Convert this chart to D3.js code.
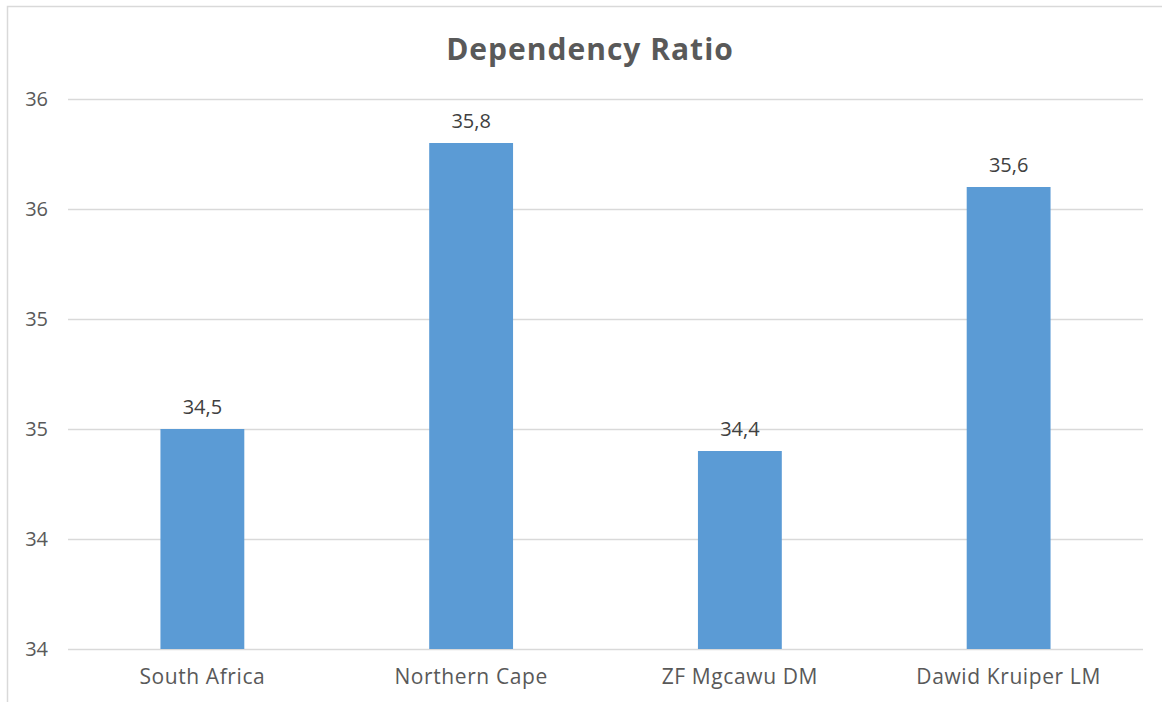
<!DOCTYPE html>
<html><head><meta charset="utf-8">
<script src="https://cdn.jsdelivr.net/npm/d3@7"></script>
<style>body{margin:0;background:#fff}svg{display:block}text{font-family:"Open Sans",sans-serif}</style>
</head><body><svg id="c" width="1162" height="702"></svg>
<script>
const categories = ["South Africa","Northern Cape","ZF Mgcawu DM","Dawid Kruiper LM"];
const values = [34.5, 35.8, 34.4, 35.6];
const valueLabels = ["34,5","35,8","34,4","35,6"];
const tickValues = [33.5, 34, 34.5, 35, 35.5, 36];
const tickLabels = ["34","34","35","35","36","36"];
const title = "Dependency Ratio";

const svg = d3.select("#c");
const W = 1162, H = 702;
const m = {l:68, r:19, t:99, b:53};
svg.append("rect").attr("x",7.5).attr("y",6.5).attr("width",W+10).attr("height",H+10)
  .attr("fill","#fff").attr("stroke","#d9d9d9").attr("stroke-width",1.5);

const x = d3.scaleBand().domain(categories).range([m.l, W-m.r]).paddingInner(0.688).paddingOuter(0.344);
const y = d3.scaleLinear().domain([33.5, 36]).range([H-m.b, m.t]);

const ya = svg.append("g").attr("transform",`translate(${m.l},0)`)
  .call(d3.axisLeft(y).tickValues(tickValues).tickSize(-(W-m.l-m.r)).tickPadding(20)
    .tickFormat((d,i)=>tickLabels[i]));
ya.select(".domain").remove();
ya.selectAll("line").attr("stroke","#d9d9d9").attr("stroke-width",1.5);
ya.selectAll("text").attr("fill","#595959").attr("font-size",20);

svg.selectAll("rect.bar").data(values).join("rect").attr("class","bar")
  .attr("x",(d,i)=>x(categories[i])).attr("width",x.bandwidth())
  .attr("y",d=>y(d)).attr("height",d=>y(33.5)-y(d)).attr("fill","#5b9bd5");

svg.selectAll("text.vl").data(values).join("text").attr("class","vl")
  .attr("x",(d,i)=>x(categories[i])+x.bandwidth()/2).attr("y",d=>y(d)-15)
  .attr("text-anchor","middle").attr("fill","#404040").attr("font-size",20)
  .text((d,i)=>valueLabels[i]);

const xa = svg.append("g").attr("transform",`translate(0,${H-m.b})`)
  .call(d3.axisBottom(x).tickSize(0).tickPadding(20));
xa.select(".domain").remove();
xa.selectAll("text").attr("fill","#595959").attr("font-size",21).attr("letter-spacing",0.6);

svg.append("text").attr("x",590).attr("y",60).attr("text-anchor","middle")
  .attr("font-size",30).attr("font-weight","bold").attr("letter-spacing",1).attr("fill","#595959").text(title);
</script></body></html>
